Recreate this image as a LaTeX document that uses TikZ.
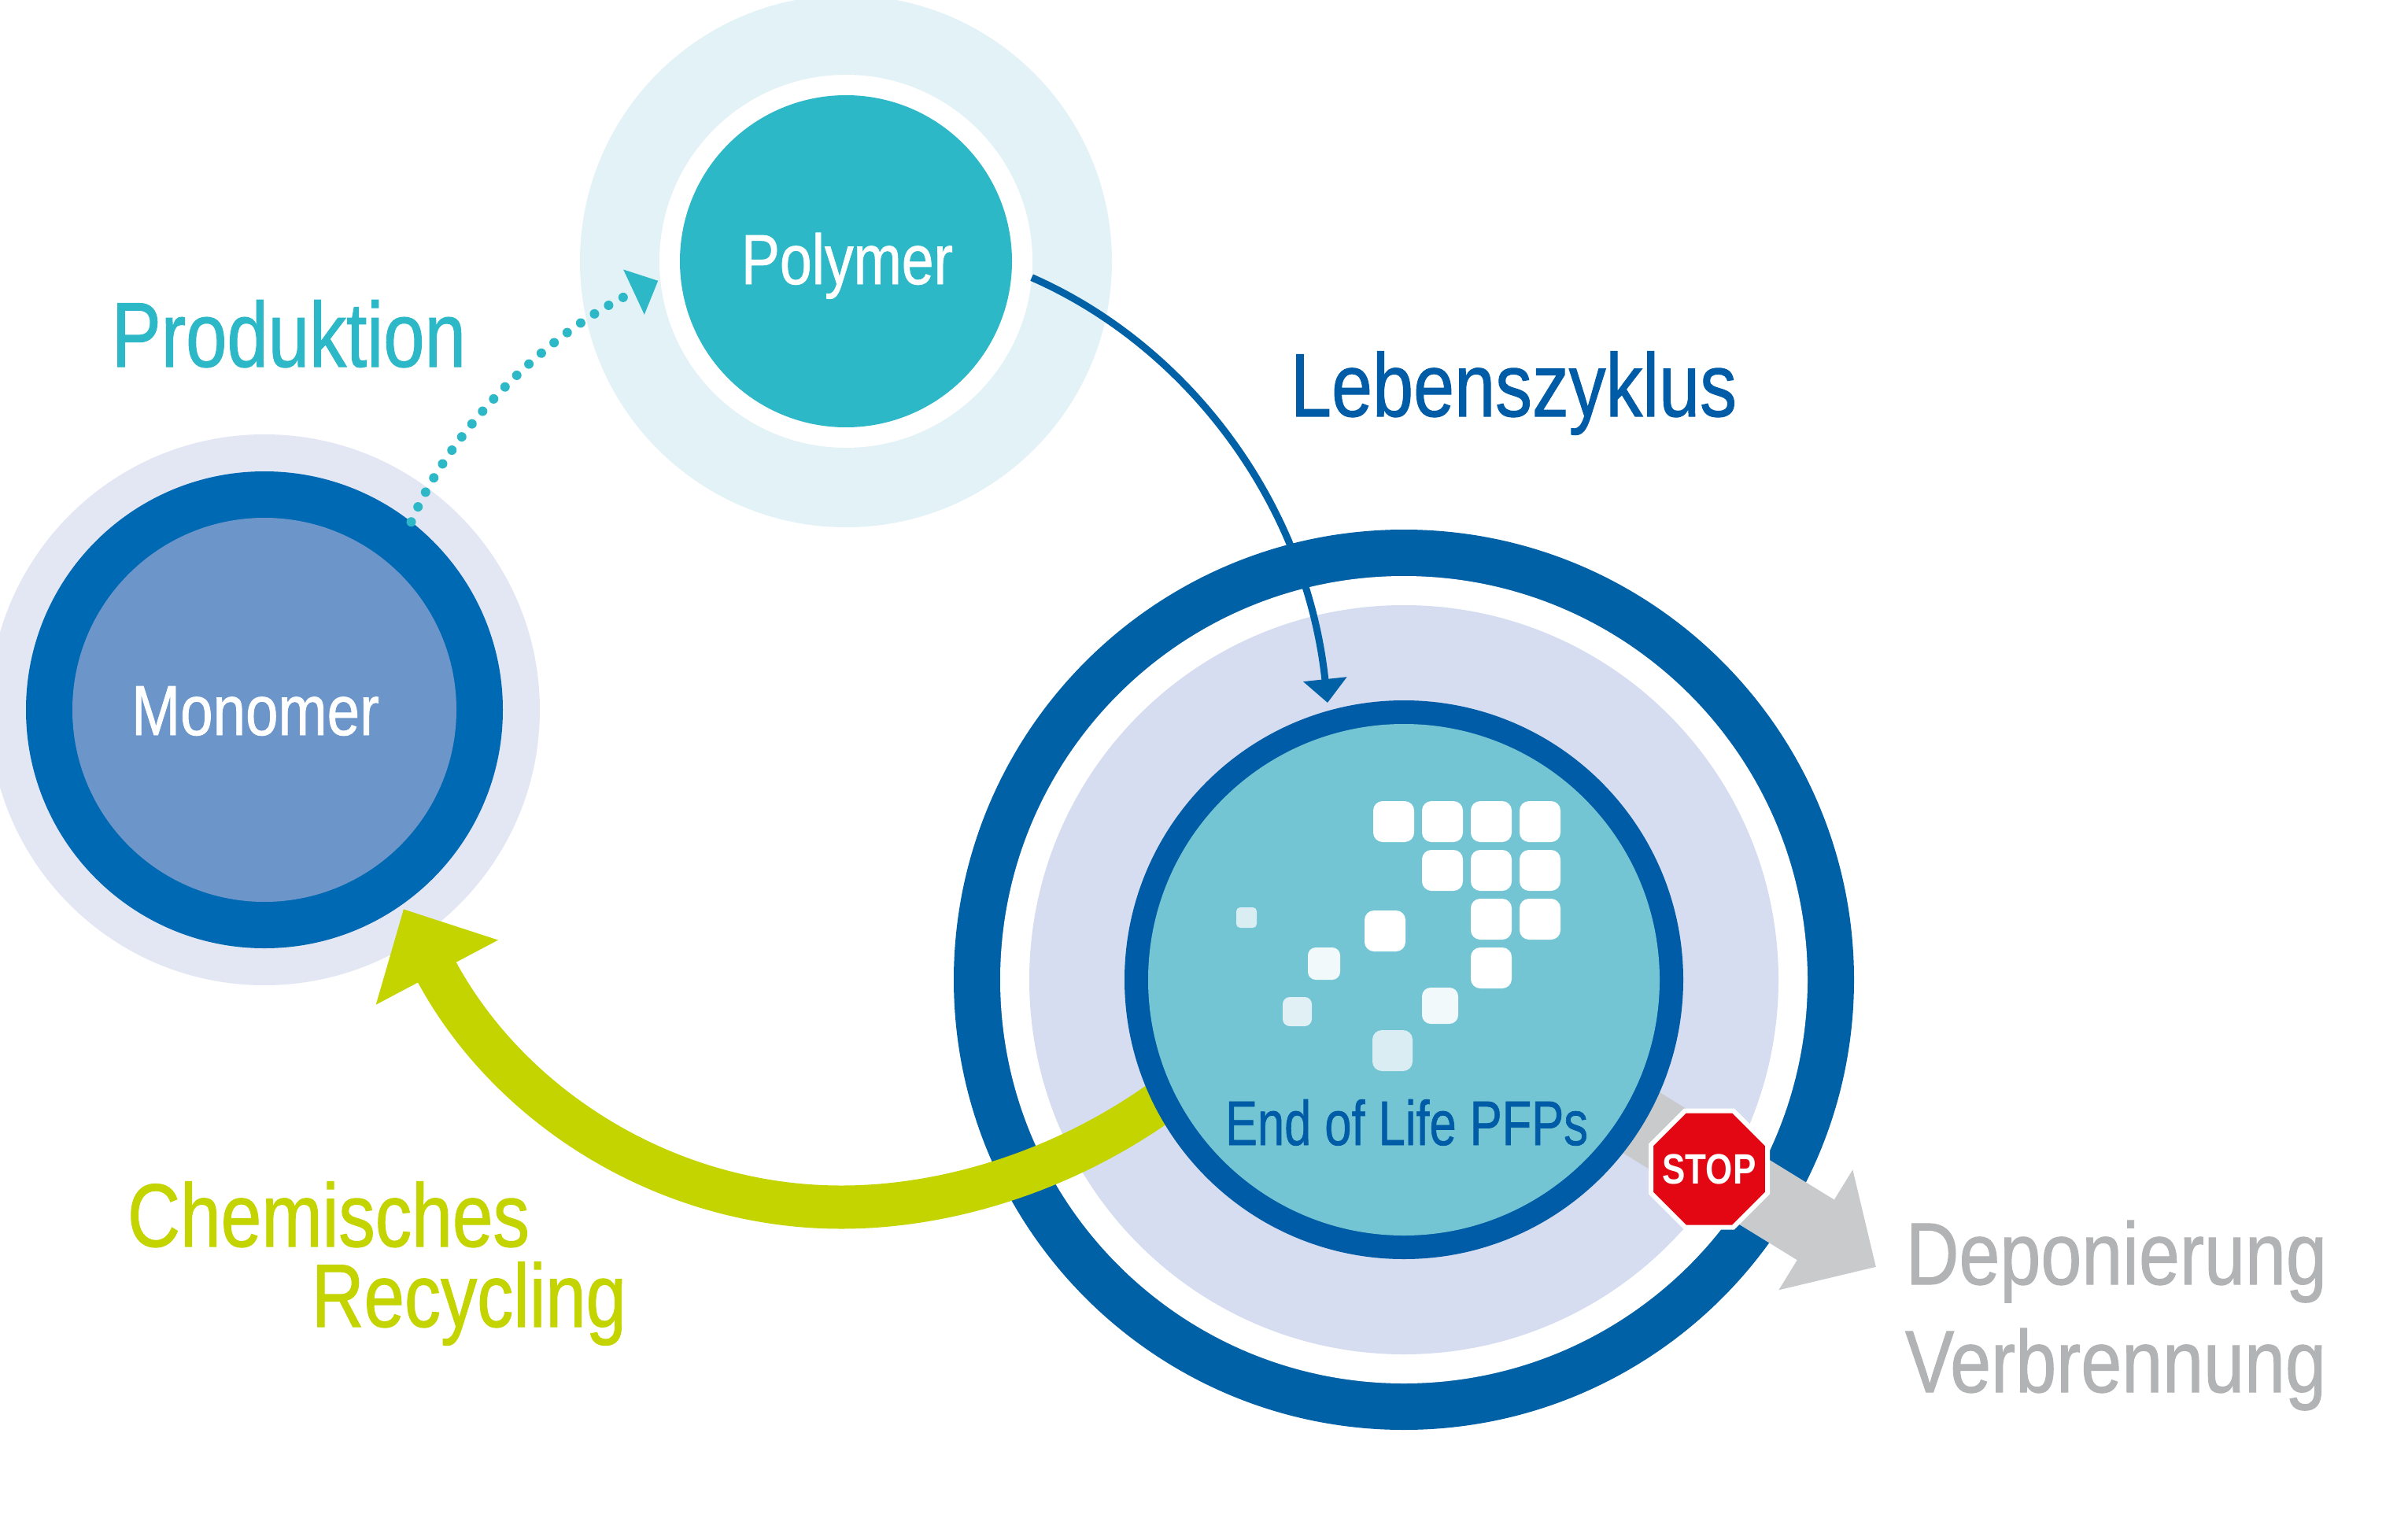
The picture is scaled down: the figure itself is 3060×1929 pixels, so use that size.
\documentclass[tikz,border=0pt]{standalone}
\usepackage{fontspec}
\usepackage{graphicx}
\setmainfont{Liberation Sans}
\newfontfamily\lblfont[FakeBold=1.0]{Liberation Sans}
\usetikzlibrary{arrows.meta,shapes.geometric}
\definecolor{ringblue}{HTML}{0061A7}
\definecolor{monoring}{HTML}{0069B4}
\definecolor{monofill}{HTML}{6C96C9}
\definecolor{monohalo}{HTML}{E3E7F4}
\definecolor{polyhalo}{HTML}{E2F2F6}
\definecolor{polyteal}{HTML}{2DB8C8}
\definecolor{lavender}{HTML}{D6DDF0}
\definecolor{eolteal}{HTML}{73C5D3}
\definecolor{eolring}{HTML}{005CA6}
\definecolor{limegreen}{HTML}{C4D400}
\definecolor{arrowgrey}{HTML}{C9CACC}
\definecolor{textgrey}{HTML}{B2B3B5}
\definecolor{stopred}{HTML}{E30613}
\definecolor{faintA}{HTML}{DAEDF2}
\definecolor{faintB}{HTML}{F2F9FB}
\definecolor{faintC}{HTML}{E0F0F5}
\pgfdeclarelayer{back}
\pgfdeclarelayer{mid}
\pgfsetlayers{back,mid,main}
\newcommand{\fittext}[3]{\resizebox{#1pt}{\height}{\fontsize{#2}{#2}\selectfont #3}}
\tikzset{
  disc/.style={circle,inner sep=0pt,outer sep=0pt,minimum size=#1},
  lbl/.style={anchor=base west,inner sep=0pt,outer sep=0pt,font=\lblfont},
  tile/.style={fill=white,rounded corners=12pt}
}
\begin{document}
\begin{tikzpicture}[x=1pt,y=-1pt]
\useasboundingbox (0,0) rectangle (3060,1929);
\begin{pgfonlayer}{back}
  \fill[white] (0,0) rectangle (3060,1929);
  % Polymer
  \node[disc=676pt,fill=polyhalo] (polyh) at (1075,332) {};
  \node[disc=474pt,fill=white] (polyw) at (1075,332) {};
  \node[disc=422pt,fill=polyteal] (poly) at (1075,332) {};
  % Monomer
  \node[disc=700pt,fill=monohalo] (monoh) at (336,902) {};
  \node[disc=606pt,fill=monoring] (monor) at (336,902) {};
  \node[disc=488pt,fill=monofill] (mono) at (336,902) {};
  % Outer rings
  \node[disc=1144pt,fill=ringblue] (bigr) at (1784,1245) {};
  \node[disc=1026pt,fill=white] (bigw) at (1784,1245) {};
  \node[disc=952pt,fill=lavender] (bigl) at (1784,1245) {};
\end{pgfonlayer}
\node[disc=710pt,fill=eolring] (eolr) at (1784,1245) {};
\node[disc=650pt,fill=eolteal] (eol) at (1784,1245) {};
\coordinate (greytip) at (2384,1610);
\coordinate (bluetip) at (1687,893);
\begin{pgfonlayer}{mid}
  \draw[limegreen,line width=55pt,-{Triangle[length=91pt,width=170pt]}]
    (eol.206.3) .. controls (1370,1480) and (1215,1534) .. (1069,1534)
    .. controls (845,1534) and (645,1405) .. ([shift={(3,5)}]monor.-55);
  \draw[arrowgrey,line width=90pt,-{Triangle[length=90pt,width=174pt]}]
    (eol.-31.7) -- (greytip);
\end{pgfonlayer}
% tiles
\foreach \x/\y in {1745/1018,1807/1018,1869/1018,1931/1018,
                   1807/1080,1869/1080,1931/1080,
                   1869/1142,1931/1142,1869/1204,1734/1157}
  \fill[tile] (\x,\y) rectangle ++(52,52);
\fill[faintA,rounded corners=5pt] (1571,1153) rectangle (1597,1179);
\fill[faintB,rounded corners=10pt] (1662,1204) rectangle (1703,1245);
\fill[faintC,rounded corners=9pt] (1630,1267) rectangle (1667,1304);
\fill[faintB,rounded corners=11pt] (1807,1255) rectangle (1853,1301);
\fill[faintA,rounded corners=12pt] (1744,1309) rectangle (1795,1361);
% connectors
\draw[ringblue,line width=9pt,-{Triangle[length=30pt,width=54pt]}]
  (polyw.-5.6) .. controls (1510,440) and (1660,640) .. (bluetip);
\draw[polyteal,line width=12pt,line cap=round,dash pattern=on 0.01pt off 21pt,
      -{Triangle[length=34pt,width=61pt]}]
  (monor.52) .. controls (570,550) and (690,425) .. ([shift={(-3,0)}]polyw.186.7);
% stop sign
\node[regular polygon,regular polygon sides=8,
      minimum size=160.2pt,inner sep=0pt,outer sep=0pt,fill=stopred,draw=white,line width=6pt] (stop) at (2172,1485.5) {};
\node[text=white,font=\bfseries,inner sep=0pt] (tstop) at (stop.center) {\fittext{119}{54}{STOP}};
% labels
\node[lbl,text=polyteal] (tprod) at (142,466) {\fittext{450}{117}{Produktion}};
\node[lbl,text=eolring] (tleben) at (1640,529) {\fittext{567}{114}{Lebenszyklus}};
\node[lbl,text=white] (tpoly) at (942,361) {\fittext{269}{90}{Polymer}};
\node[lbl,text=white] (tmono) at (167,934) {\fittext{315}{90}{Monomer}};
\node[lbl,text=eolring] (teol) at (1557,1455) {\fittext{461}{80}{End of Life PFPs}};
\node[lbl,text=limegreen] (tchem) at (162,1584) {\fittext{511}{114}{Chemisches}};
\node[lbl,text=limegreen] (trec) at (396,1686) {\fittext{400}{114}{Recycling}};
\node[lbl,text=textgrey] (tdep) at (2422,1632) {\fittext{535}{112}{Deponierung}};
\node[lbl,text=textgrey] (tver) at (2421,1769) {\fittext{535}{112}{Verbrennung}};
\end{tikzpicture}
\end{document}
